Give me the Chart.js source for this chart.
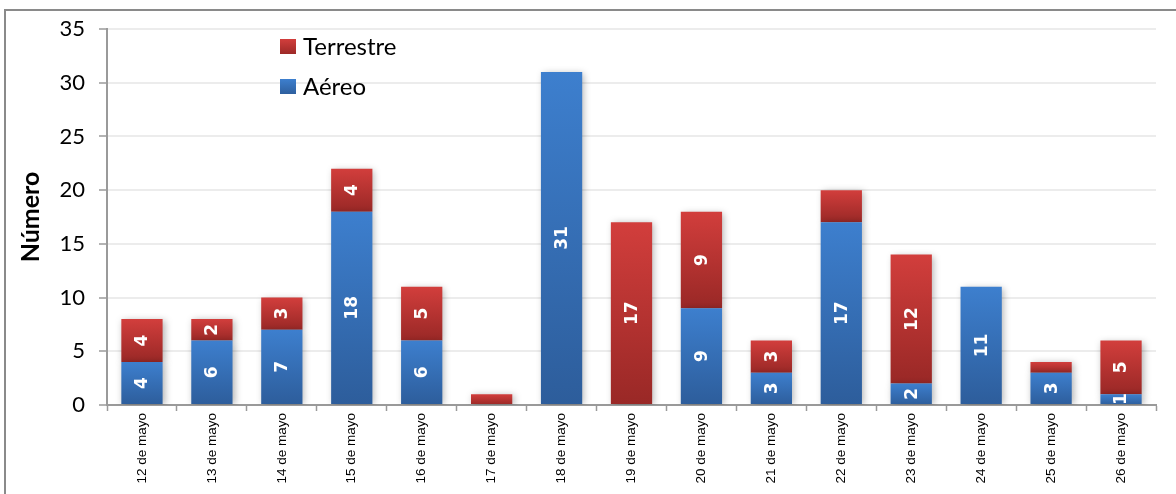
<!DOCTYPE html>
<html>
<head>
<meta charset="utf-8">
<title>Número por día</title>
<script src="https://cdn.jsdelivr.net/npm/chart.js@4.4.1/dist/chart.umd.min.js"></script>
<style>
    html, body { margin: 0; padding: 0; background: #fff; }
    .chart-wrap { width: 1176px; height: 494px; position: relative; }
</style>
</head>
<body>
<div class="chart-wrap"><canvas id="mayochart"></canvas></div>
<script>
"use strict";

/* data */
var categories = ['12 de mayo', '13 de mayo', '14 de mayo', '15 de mayo', '16 de mayo', '17 de mayo', '18 de mayo',
    '19 de mayo', '20 de mayo', '21 de mayo', '22 de mayo', '23 de mayo', '24 de mayo', '25 de mayo', '26 de mayo'];
var aereo = [4, 6, 7, 18, 6, 0, 31, 0, 9, 3, 17, 2, 11, 3, 1];
var terrestre = [4, 2, 3, 4, 5, 1, 0, 17, 9, 3, 3, 12, 0, 1, 5];
var aereoLabels = ['4', '6', '7', '18', '6', '', '31', '', '9', '3', '17', '2', '11', '3', '1'];
var terrestreLabels = ['4', '2', '3', '4', '5', '', '', '17', '9', '3', '', '12', '', '', '5'];
var yTicks = [0, 5, 10, 15, 20, 25, 30, 35];

var blueTop = '#3d7fce', blueBottom = '#2d5d9b';
var redTop = '#d23e3c', redBottom = '#992826';

/* vertical gradient per bar segment */
function segmentFill(topColor, bottomColor) {
    return function (c) {
        if (c.type !== 'data') return topColor;
        var chart = c.chart;
        var y = chart.scales.y;
        if (!chart.chartArea || !y) return topColor;
        var i = c.dataIndex;
        var lo = c.datasetIndex === 0 ? 0 : aereo[i];
        var hi = lo + c.raw;
        var top = y.getPixelForValue(hi);
        var bot = y.getPixelForValue(lo);
        if (bot - top < 1) return topColor;
        var g = chart.ctx.createLinearGradient(0, top, 0, bot);
        g.addColorStop(0, topColor);
        g.addColorStop(1, bottomColor);
        return g;
    };
}

/* outer frame */
var framePlugin = {
    id: 'frame',
    beforeDraw: function (chart) {
        var ctx = chart.ctx;
        ctx.save();
        ctx.fillStyle = '#fff';
        ctx.fillRect(0, 0, chart.width, chart.height);
        ctx.strokeStyle = '#8a8a8a';
        ctx.lineWidth = 2;
        ctx.strokeRect(5, 10, chart.width + 20, chart.height + 20);
        ctx.restore();
    }
};

/* soft shadow on bars */
var shadowPlugin = {
    id: 'barshadow',
    beforeDatasetDraw: function (chart) {
        var ctx = chart.ctx;
        ctx.save();
        ctx.shadowColor = 'rgba(0,0,0,0.3)';
        ctx.shadowBlur = 7;
        ctx.shadowOffsetX = 2;
        ctx.shadowOffsetY = 1;
    },
    afterDatasetDraw: function (chart) {
        chart.ctx.restore();
    }
};

/* rotated white labels inside the bars */
var valueLabelPlugin = {
    id: 'valuelabels',
    afterDatasetsDraw: function (chart) {
        var ctx = chart.ctx;
        var area = chart.chartArea;
        var lists = [aereoLabels, terrestreLabels];
        ctx.save();
        ctx.beginPath();
        ctx.rect(area.left, area.top - 40, area.right - area.left, area.bottom - area.top + 40);
        ctx.clip();
        ctx.fillStyle = '#fff';
        ctx.font = 'bold 17px "DejaVu Sans"';
        ctx.textAlign = 'center';
        ctx.textBaseline = 'middle';
        chart.data.datasets.forEach(function (ds, d) {
            var meta = chart.getDatasetMeta(d);
            meta.data.forEach(function (bar, i) {
                var txt = lists[d][i];
                if (!txt) return;
                var cy = (bar.y + bar.base) / 2;
                ctx.save();
                ctx.translate(bar.x, cy);
                ctx.rotate(-Math.PI / 2);
                ctx.fillText(txt, 0, 1);
                ctx.restore();
            });
        });
        ctx.restore();
    }
};

/* legend drawn inside the plot */
var legendPlugin = {
    id: 'innerlegend',
    afterDraw: function (chart) {
        var ctx = chart.ctx;
        var items = [
            { text: 'Terrestre', top: redTop, bottom: redBottom, y: 47 },
            { text: 'Aéreo', top: blueTop, bottom: blueBottom, y: 87 }
        ];
        ctx.save();
        items.forEach(function (it) {
            var g = ctx.createLinearGradient(0, it.y - 8, 0, it.y + 8);
            g.addColorStop(0, it.top);
            g.addColorStop(1, it.bottom);
            ctx.fillStyle = g;
            ctx.fillRect(280, it.y - 8, 16, 15);
            ctx.fillStyle = '#000';
            ctx.font = '24px Lato';
            ctx.textAlign = 'left';
            ctx.textBaseline = 'middle';
            ctx.fillText(it.text, 303, it.y);
        });
        ctx.restore();
    }
};

var mayochart = document.getElementById('mayochart').getContext('2d');
var mayochartConfig = {
    type: 'bar',
    data: {
        labels: categories,
        datasets: [{
            label: 'Aéreo',
            data: aereo,
            backgroundColor: segmentFill(blueTop, blueBottom),
            borderWidth: 0,
            categoryPercentage: 1,
            barPercentage: 0.59,
        }, {
            label: 'Terrestre',
            data: terrestre,
            backgroundColor: segmentFill(redTop, redBottom),
            borderWidth: 0,
            categoryPercentage: 1,
            barPercentage: 0.59,
        }]
    },
    options: {
        responsive: true,
        maintainAspectRatio: false,
        animation: false,
        layout: {
            padding: { left: 0, top: 29, right: 20, bottom: 0 }
        },
        plugins: {
            legend: { display: false },
            tooltip: { enabled: false },
        },
        scales: {
            x: {
                stacked: true,
                afterFit: function (scale) { scale.height = 89; },
                grid: {
                    offset: true,
                    drawOnChartArea: false,
                    tickLength: 6,
                    tickColor: '#9a9a9a',
                    tickWidth: 1.5,
                },
                border: { color: '#9a9a9a', width: 2 },
                ticks: {
                    minRotation: 90,
                    maxRotation: 90,
                    autoSkip: false,
                    padding: 2,
                    color: '#000',
                    font: { family: '"Liberation Sans"', size: 13.5 },
                }
            },
            y: {
                stacked: true,
                min: 0,
                max: 35,
                afterFit: function (scale) { scale.width = 107; },
                afterBuildTicks: function (scale) {
                    scale.ticks = yTicks.map(function (v) { return { value: v }; });
                },
                grid: {
                    color: '#ececec',
                    lineWidth: 2,
                    tickLength: 8,
                    tickColor: '#9a9a9a',
                    tickWidth: 1.5,
                },
                border: { color: '#9a9a9a', width: 2 },
                ticks: {
                    padding: 14,
                    color: '#000',
                    font: { family: 'Lato', size: 22 },
                },
                title: {
                    display: true,
                    text: 'Número',
                    color: '#000',
                    font: { family: 'Lato', size: 25, weight: 'bold' },
                    padding: { top: 16, bottom: 0 },
                }
            }
        }
    },
    plugins: [framePlugin, shadowPlugin, valueLabelPlugin, legendPlugin]
};
var myMayoChart = new Chart(mayochart, mayochartConfig);
</script>
</body>
</html>
